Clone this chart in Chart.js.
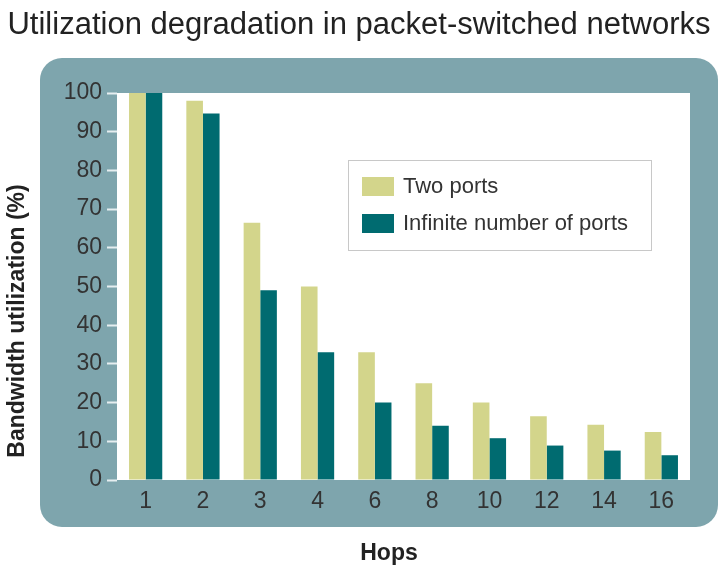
<!DOCTYPE html>
<html>
<head>
<meta charset="utf-8">
<script src="https://cdn.jsdelivr.net/npm/chart.js@4"></script>
<style>
  html, body { margin: 0; padding: 0; background: #ffffff; }
  #wrap { width: 720px; height: 572px; }
</style>
</head>
<body>
<div id="wrap"><canvas id="graf_hops" width="720" height="572"></canvas></div>
<script>
// Data
var hops = ['1', '2', '3', '4', '6', '8', '10', '12', '14', '16'];
var twoPorts = [100, 98, 66.5, 50, 33, 25, 20, 16.5, 14.3, 12.4];
var infinitePorts = [100, 94.7, 49, 33, 20, 14, 10.8, 8.9, 7.6, 6.4];
var yTicks = [0, 10, 20, 30, 40, 50, 60, 70, 80, 90, 100];

var chartTitle = 'Utilization degradation in packet-switched networks';
var panelColor = '#7ea5ad';
var textColor = '#333333';
var fontFamily = '"Liberation Sans", Arial, sans-serif';

// Title, panel, white plot area, legend and axis titles
var decor = {
  id: 'decor',
  beforeDraw: function (chart) {
    var c = chart.ctx, a = chart.chartArea;
    var x0 = a.left - 77, y0 = a.top - 35, x1 = a.right + 28, y1 = a.bottom + 47;
    c.save();
    c.fillStyle = panelColor;
    c.beginPath();
    c.roundRect(x0, y0, x1 - x0, y1 - y0, 22);
    c.fill();
    c.fillStyle = '#ffffff';
    c.fillRect(a.left, a.top, a.right - a.left, a.bottom - a.top);
    // chart title
    c.fillStyle = '#222222';
    c.font = '31px ' + fontFamily;
    c.textAlign = 'center';
    c.textBaseline = 'alphabetic';
    c.fillText(chartTitle, 359, 34);
    c.restore();
  },
  afterDraw: function (chart) {
    var c = chart.ctx, a = chart.chartArea;
    c.save();
    // legend box
    var lx = a.left + 231, ly = a.top + 67;
    c.fillStyle = '#ffffff';
    c.fillRect(lx, ly, 303, 90);
    c.strokeStyle = '#c8c8c8';
    c.lineWidth = 1;
    c.strokeRect(lx + 0.5, ly + 0.5, 303, 90);
    c.font = '22px ' + fontFamily;
    c.textBaseline = 'middle';
    c.textAlign = 'left';
    chart.data.datasets.forEach(function (ds, i) {
      var sy = ly + 17 + i * 37;
      c.fillStyle = ds.backgroundColor;
      c.fillRect(lx + 14, sy, 32, 19);
      c.fillStyle = textColor;
      c.fillText(ds.label, lx + 55, sy + 10);
    });
    // axis titles
    c.fillStyle = '#222222';
    c.font = 'bold 23px ' + fontFamily;
    c.textAlign = 'center';
    c.fillText('Hops', a.left + 272, a.bottom + 74);
    c.translate(a.left - 99, a.top + 228);
    c.rotate(-Math.PI / 2);
    c.fillText('Bandwidth utilization (%)', 0, 0);
    c.restore();
  }
};

var ctx = document.getElementById('graf_hops').getContext('2d');

var hopsChart = new Chart(ctx, {
  type: 'bar',
  data: {
    labels: hops,
    datasets: [
      {
        label: 'Two ports',
        data: twoPorts,
        backgroundColor: '#d3d58b',
        borderWidth: 0,
        categoryPercentage: 0.58,
        barPercentage: 1.0
      },
      {
        label: 'Infinite number of ports',
        data: infinitePorts,
        backgroundColor: '#006b70',
        borderWidth: 0,
        categoryPercentage: 0.58,
        barPercentage: 1.0
      }
    ]
  },
  options: {
    responsive: false,
    animation: false,
    layout: { padding: { left: 27, right: 30, top: 93, bottom: 0 } },
    plugins: {
      legend: { display: false },
      tooltip: { enabled: false },
      title: { display: false }
    },
    scales: {
      x: {
        grid: { display: false, drawTicks: false },
        border: { display: false },
        ticks: {
          color: textColor,
          padding: 8,
          font: { family: fontFamily, size: 23 }
        },
        afterFit: function (scale) { scale.height = 92; }
      },
      y: {
        min: 0,
        max: 100,
        grid: {
          drawOnChartArea: false,
          drawTicks: true,
          tickLength: 10,
          tickColor: '#e6eef0',
          tickWidth: 2
        },
        border: { display: false },
        afterBuildTicks: function (scale) {
          scale.ticks = yTicks.map(function (v) { return { value: v }; });
        },
        ticks: {
          color: textColor,
          padding: 5,
          font: { family: fontFamily, size: 23 }
        },
        afterFit: function (scale) { scale.width = 90; }
      }
    }
  },
  plugins: [decor]
});
</script>
</body>
</html>
